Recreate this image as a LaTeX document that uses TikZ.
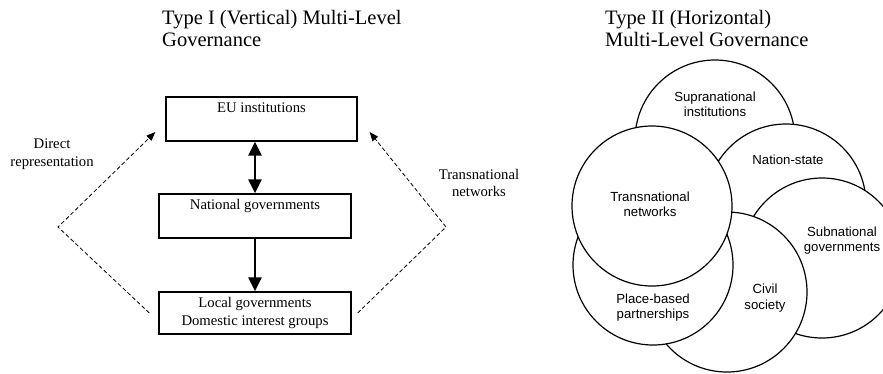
\documentclass[tikz,border=0pt]{standalone}
\usepackage{fontspec}
\setmainfont{Liberation Serif}
\setsansfont{Liberation Sans}
\usetikzlibrary{positioning, arrows.meta, calc}

\begin{document}
\begin{tikzpicture}[x=1pt, y=-1pt, >={Triangle[length=14pt, width=13pt]},
  box/.style={draw, line width=1.3pt, minimum width=192pt, minimum height=44pt, inner sep=0pt, align=center, font=\fontsize{14.7}{17.5}\selectfont},
  circ/.style={circle, draw, line width=1.2pt, fill=white, minimum size=160pt, inner sep=0pt},
  ctxt/.style={align=center, font=\sffamily\fontsize{13.2}{15.5}\selectfont},
  lbl/.style={align=center, font=\fontsize{14.7}{17.5}\selectfont},
  ttl/.style={align=left, anchor=north west, inner sep=0pt, font=\fontsize{20.5}{22}\selectfont},
  arr/.style={line width=2.6pt},
  darr/.style={-{Triangle[length=9pt, width=7pt]}, dash pattern=on 4pt off 2.5pt, line width=0.8pt}
]
  \useasboundingbox (0,0) rectangle (883,373);
  % Type I
  \node[ttl] (t1) at (162,10) {Type I (Vertical) Multi-Level\\Governance};
  \node[box, minimum width=191pt] (eu) at (261.5,119) {EU institutions\\\strut};
  \node[box] (nat) at (255,216) {National governments\\\strut};
  \node[box, minimum height=42pt] (loc) at (255,313) {Local governments\\Domestic interest groups};
  \draw[arr, <->] (nat.north |- eu.south) -- (nat.north);
  \draw[arr, ->] (nat.south) -- (loc.north);
  \coordinate (dl) at (58,227);
  \coordinate (dr) at (446,227);
  \draw[darr] ([xshift=-9pt]loc.west) -- (dl) -- ([shift={(-10,13)}]eu.west);
  \draw[darr] ([xshift=6pt]loc.east) -- (dr) -- ([shift={(12,13)}]eu.east);
  \node[lbl] (dir) at (52,154) {Direct\\representation};
  \node[lbl] (tn) at (479,183) {Transnational\\networks};
  % Type II
  \node[ttl] (t2) at (605,10) {Type II (Horizontal)\\Multi-Level Governance};
  \foreach \n/\cx/\cy in {sup/715/140, nst/786/204, sub/822/258, civ/727/292, plc/653/265, trn/652/206}
    \node[circ] (\n) at (\cx,\cy) {};
  \node[ctxt] (supt) at (715,104.5) {Supranational\\institutions};
  \node[ctxt] (nstt) at (788,160) {Nation-state};
  \node[ctxt] (trnt) at (650,204.5) {Transnational\\networks};
  \node[ctxt] (plct) at (653,307.5) {Place-based\\partnerships};
  \node[ctxt] (civt) at (765,298) {Civil\\society};
  \node[ctxt] (subt) at (842,240.5) {Subnational\\governments};
\end{tikzpicture}
\end{document}
